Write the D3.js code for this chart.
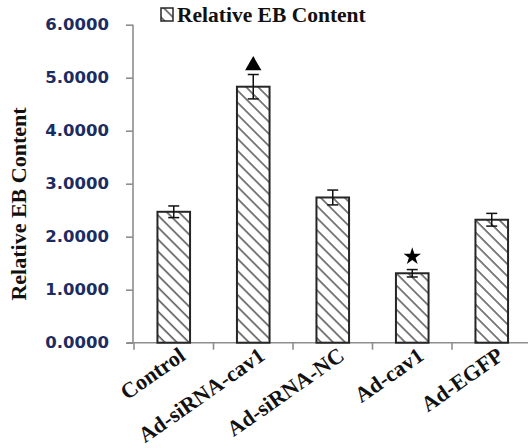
<!DOCTYPE html>
<html>
<head>
<meta charset="utf-8">
<script src="https://cdn.jsdelivr.net/npm/d3@7"></script>
<style>
  html, body { margin: 0; padding: 0; background: #fff; }
  svg { display: block; }
</style>
</head>
<body>
<div id="chart"></div>
<script>
// Relative EB content per treatment group (mean ± error)
const groups = ["Control", "Ad-siRNA-cav1", "Ad-siRNA-NC", "Ad-cav1", "Ad-EGFP"];
const means = [2.47, 4.83, 2.74, 1.31, 2.32];
const errors = [0.11, 0.23, 0.14, 0.07, 0.12];
// significance markers above specific groups
const markers = [null, "triangle", null, "star", null];
const yTicks = [0, 1, 2, 3, 4, 5, 6];
const seriesName = "Relative EB Content";
const yTitle = "Relative EB Content";

const W = 528, H = 448;
const svg = d3.select("#chart").append("svg")
  .attr("width", W).attr("height", H);

// diagonal hatch fill
const defs = svg.append("defs");
const pat = defs.append("pattern")
  .attr("id", "hatch")
  .attr("patternUnits", "userSpaceOnUse")
  .attr("width", 8.5).attr("height", 8.5)
  .attr("patternTransform", "rotate(-45)");
pat.append("rect").attr("width", 8.5).attr("height", 8.5).attr("fill", "#fff");
pat.append("line")
  .attr("x1", 2).attr("y1", 0).attr("x2", 2).attr("y2", 8.5)
  .attr("stroke", "#5e5e5e").attr("stroke-width", 1.6);

const x = d3.scaleBand().domain(groups).range([134, 531.5]).padding(0);
const y = d3.scaleLinear().domain([0, 6]).range([342.7, 24.7]);
const barW = x.bandwidth() * 0.41;

const axisColor = "#8e8e8e";

// y axis
const yAxis = svg.append("g")
  .attr("transform", `translate(${x.range()[0] - 1},0)`)
  .call(d3.axisLeft(y).tickValues(yTicks).tickSize(7).tickPadding(17)
    .tickFormat(d3.format(".4f")));
yAxis.select(".domain").attr("stroke", axisColor).attr("stroke-width", 1.6)
  .attr("d", `M0,${y(6)}V${y(0)}`);
yAxis.selectAll(".tick line").attr("stroke", axisColor).attr("stroke-width", 1.6);
yAxis.selectAll(".tick text")
  .attr("fill", "#1b2c62")
  .style("font-family", "'DejaVu Sans', Verdana, sans-serif")
  .style("font-weight", "bold")
  .style("font-size", "16.5px");

// x axis with ticks at category boundaries
const xAxisG = svg.append("g").attr("transform", `translate(0,${y(0)})`);
xAxisG.append("line")
  .attr("x1", 127).attr("x2", W).attr("y1", 0).attr("y2", 0)
  .attr("stroke", axisColor).attr("stroke-width", 1.6);
const bounds = groups.map(g => x(g)).concat([x.range()[1]]);
xAxisG.selectAll("line.bt").data(bounds).join("line")
  .attr("class", "bt")
  .attr("x1", d => d).attr("x2", d => d)
  .attr("y1", 0).attr("y2", 7)
  .attr("stroke", axisColor).attr("stroke-width", 1.6);

// category labels
svg.append("g").selectAll("text").data(groups).join("text")
  .attr("transform", d => `translate(${x(d) + x.bandwidth() / 2 + 13},${y(0) + 16}) rotate(-35)`)
  .attr("text-anchor", "end")
  .attr("font-family", "'Liberation Serif', 'Times New Roman', serif")
  .attr("font-weight", "bold")
  .attr("font-size", 22)
  .attr("fill", "#111")
  .text(d => d);

// bars
svg.append("g").selectAll("rect").data(groups).join("rect")
  .attr("x", d => x(d) + (x.bandwidth() - barW) / 2)
  .attr("y", (d, i) => y(means[i]))
  .attr("width", barW)
  .attr("height", (d, i) => y(0) - y(means[i]))
  .attr("fill", "url(#hatch)")
  .attr("stroke", "#262626")
  .attr("stroke-width", 2);

// error bars
const eb = svg.append("g").attr("stroke", "#111").attr("stroke-width", 1.5);
groups.forEach((g, i) => {
  const cx = x(g) + x.bandwidth() / 2;
  const top = y(means[i] + errors[i]);
  const bot = y(means[i] - errors[i]);
  eb.append("line").attr("x1", cx).attr("x2", cx).attr("y1", top).attr("y2", bot);
  eb.append("line").attr("x1", cx - 5.5).attr("x2", cx + 5.5).attr("y1", top).attr("y2", top);
  eb.append("line").attr("x1", cx - 5.5).attr("x2", cx + 5.5).attr("y1", bot).attr("y2", bot);
});

// significance markers
groups.forEach((g, i) => {
  if (!markers[i]) return;
  const cx = x(g) + x.bandwidth() / 2;
  const top = y(means[i] + errors[i]);
  if (markers[i] === "triangle") {
    svg.append("path")
      .attr("d", d3.symbol(d3.symbolTriangle, 115)())
      .attr("transform", `translate(${cx},${top - 9})`)
      .attr("fill", "#000");
  } else {
    svg.append("path")
      .attr("d", d3.symbol(d3.symbolStar, 95)())
      .attr("transform", `translate(${cx},${top - 13})`)
      .attr("fill", "#000");
  }
});

// y axis title
svg.append("text")
  .attr("transform", `translate(26,204) rotate(-90)`)
  .attr("text-anchor", "middle")
  .attr("font-family", "'Liberation Serif', 'Times New Roman', serif")
  .attr("font-weight", "bold")
  .attr("font-size", 22)
  .attr("fill", "#111")
  .text(yTitle);

// legend
const lg = svg.append("g").attr("transform", "translate(161,8)");
lg.append("rect").attr("width", 12).attr("height", 13)
  .attr("fill", "url(#hatch)").attr("stroke", "#262626").attr("stroke-width", 1.5);
lg.append("text")
  .attr("x", 16).attr("y", 14)
  .attr("font-family", "'Liberation Serif', 'Times New Roman', serif")
  .attr("font-weight", "bold")
  .attr("font-size", 21.5)
  .attr("fill", "#111")
  .text(seriesName);
</script>
</body>
</html>
